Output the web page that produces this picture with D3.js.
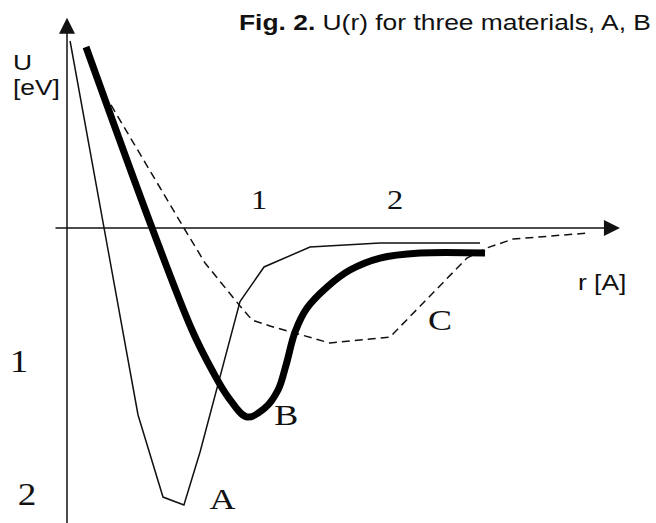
<!DOCTYPE html>
<html>
<head>
<meta charset="utf-8">
<script src="https://cdn.jsdelivr.net/npm/d3@7"></script>
<style>
  html, body { margin: 0; padding: 0; background: #fff; }
  svg { display: block; }
</style>
</head>
<body>
<svg id="chart" width="656" height="523"></svg>
<script>
// U(r) curves: r in Å, U in eV (negative = well depth)
const curveA = [
  [0.016, 1.406], [0.370, -1.406], [0.500, -2.023], [0.609, -2.083],
  [0.693, -1.684], [0.901, -0.553], [1.037, -0.293], [1.375, -0.143],
  [1.890, -0.113], [2.625, -0.113]
];
const curveB = [
  [0.099, 1.361], [0.443, 0.000], [0.651, -0.767], [0.755, -1.068],
  [0.839, -1.271], [0.938, -1.421], [1.044, -1.353], [1.140, -1.218],
  [1.199, -1.030], [1.265, -0.782], [1.353, -0.602], [1.500, -0.444],
  [1.669, -0.316], [1.890, -0.226], [2.184, -0.188], [2.662, -0.188]
];
const curveC = [
  [0.229, 0.925], [0.609, 0.000], [0.719, -0.263], [0.901, -0.586],
  [0.964, -0.692], [1.081, -0.737], [1.522, -0.865], [1.963, -0.820],
  [2.529, -0.226], [2.676, -0.150], [2.868, -0.083], [3.419, -0.038]
];
const xTicks = [1, 2];
const yTicks = [-1, -2];
const yTickText = ["1", "2"];
const curveLabels = [
  { name: "A", r: 0.81, u: -2.11 },
  { name: "B", r: 1.20, u: -1.48 },
  { name: "C", r: 2.33, u: -0.77 }
];
const X_AXIS = [-0.06, 3.654];
const Y_AXIS = [-2.25, 1.58];

const SX = 1.2; // the original figure is stretched sideways
const svg = d3.select("#chart");

// the sketch isn't to scale: 0→1 is wider than 1→2
const x = d3.scaleLinear().domain([0, 1, 2]).range([67, 259, 395]);
const y = d3.scaleLinear().domain([0, -2]).range([228, 494]);

const ink = "#111";
const sans = "'Liberation Sans', Arial, sans-serif";
const serif = "'Liberation Serif', 'Times New Roman', serif";

const label = (px, py, txt, opts = {}) =>
  svg.append("text")
    .attr("transform", `translate(${px},${py}) scale(${SX},1)`)
    .attr("text-anchor", opts.anchor || "start")
    .attr("font-family", opts.family || sans)
    .attr("font-size", opts.size || 22)
    .attr("font-weight", opts.weight || "normal")
    .attr("fill", ink)
    .text(txt);

// axes
svg.append("line")
  .attr("x1", x(X_AXIS[0])).attr("x2", x(X_AXIS[1]) - 12)
  .attr("y1", y(0)).attr("y2", y(0))
  .attr("stroke", ink).attr("stroke-width", 1.5);
svg.append("line")
  .attr("x1", x(0)).attr("x2", x(0))
  .attr("y1", y(Y_AXIS[0])).attr("y2", y(Y_AXIS[1]) + 12)
  .attr("stroke", ink).attr("stroke-width", 1.5);

const xt = x(X_AXIS[1]), yt = y(Y_AXIS[1]);
svg.append("path")
  .attr("d", `M${xt},${y(0)}L${xt - 16},${y(0) - 8}L${xt - 16},${y(0) + 8}Z`)
  .attr("fill", ink);
svg.append("path")
  .attr("d", `M${x(0)},${yt}L${x(0) - 8},${yt + 16}L${x(0) + 8},${yt + 16}Z`)
  .attr("fill", ink);

// tick labels
xTicks.forEach(t => label(x(t), y(0) - 19, String(t), { anchor: "middle", family: serif, size: 27 }));
const yTickX = [19, 27];
yTicks.forEach((t, i) => label(yTickX[i], y(t) + 11, yTickText[i], { anchor: "middle", family: serif, size: 31 }));

// axis titles and caption
label(13, 70, "U");
label(13, 95, "[eV]");
label(578, 290, "r [A]");
const cap = svg.append("text")
  .attr("transform", `translate(239,30) scale(${SX},1)`)
  .attr("font-family", sans).attr("font-size", 22).attr("fill", ink);
cap.append("tspan").attr("font-weight", "bold").text("Fig. 2.");
cap.append("tspan").text(" U(r) for three materials, A, B");

// curves
const line = d3.line().x(d => x(d[0])).y(d => y(d[1]));

svg.append("path")
  .datum(curveA)
  .attr("d", line.curve(d3.curveLinear))
  .attr("fill", "none").attr("stroke", ink)
  .attr("stroke-width", 1.5).attr("stroke-linejoin", "miter");

svg.append("path")
  .datum(curveC)
  .attr("d", line.curve(d3.curveLinear))
  .attr("fill", "none").attr("stroke", ink)
  .attr("stroke-width", 1.5).attr("stroke-dasharray", "8,5");

svg.append("path")
  .datum(curveB)
  .attr("d", line.curve(d3.curveCatmullRom.alpha(0.5)))
  .attr("fill", "none").attr("stroke", "#000")
  .attr("stroke-width", 7).attr("stroke-linecap", "butt");

curveLabels.forEach(d => label(x(d.r), y(d.u), d.name, { anchor: "middle", family: serif, size: 30 }));
</script>
</body>
</html>
